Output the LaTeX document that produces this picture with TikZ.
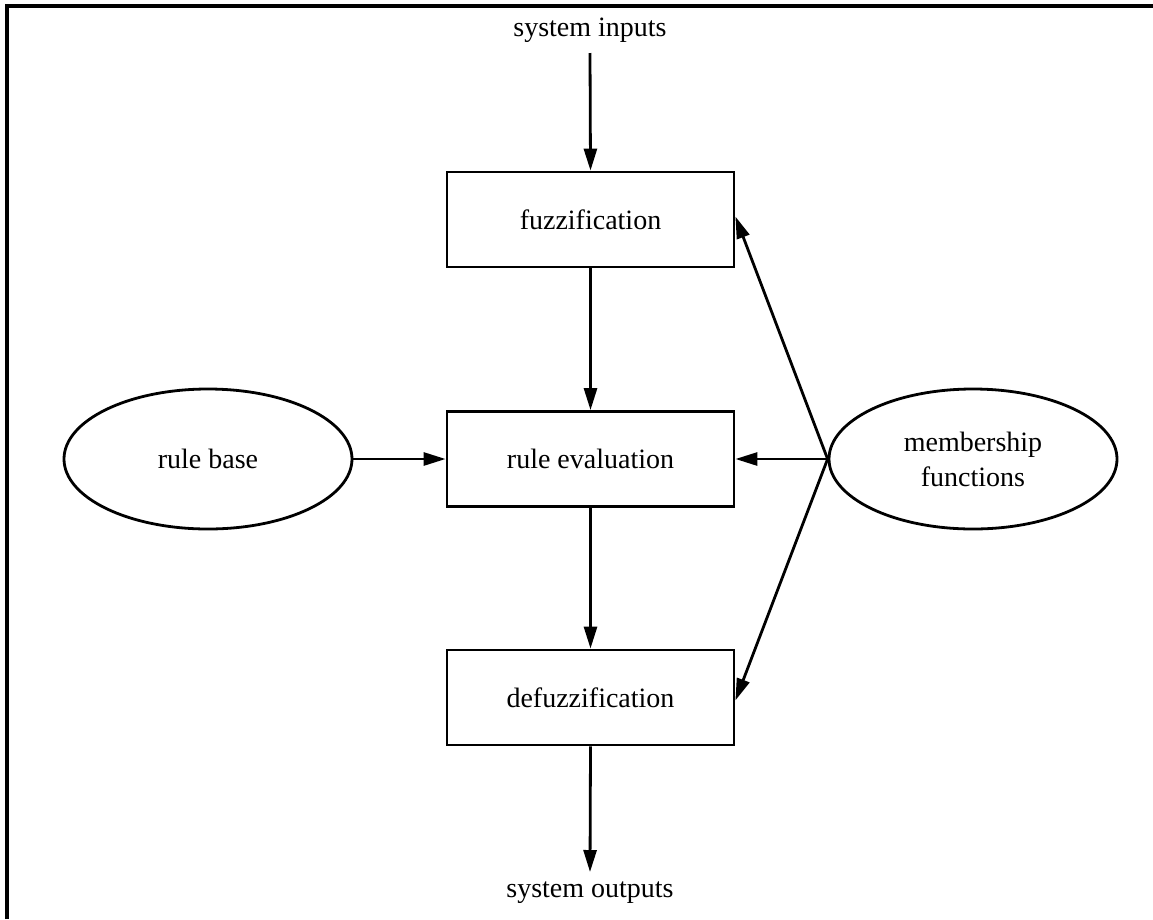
\documentclass[tikz,border=0pt]{standalone}
\usepackage{fontspec}
\setmainfont{Liberation Serif}
\usetikzlibrary{shapes.geometric,arrows.meta}
\begin{document}
\begin{tikzpicture}[x=1pt,y=-1pt,
  every node/.style={font=\fontsize{28}{35}\selectfont, inner sep=0pt},
  stagebox/.style={draw, line width=2.8pt, minimum width=287pt, minimum height=95pt},
  oval/.style={draw, ellipse, line width=2.8pt, minimum width=288pt, minimum height=140pt, align=center},
  conn/.style={line width=2.8pt, -{Triangle[length=22pt,width=13pt]}},
  label/.style={}]
\useasboundingbox (0,0) rectangle (1153,919);
\draw[line width=3.2pt] (7,919) -- (7,6) -- (1153,6);
\node[label] (in) at (590,30) {system inputs};
\coordinate (inS) at (590,53);
\node[stagebox] (fz) at (590.5,219.5) {fuzzification};
\node[stagebox] (re) at (590.5,459) {rule evaluation};
\node[stagebox] (df) at (590.5,697.5) {defuzzification};
\coordinate (outE) at (590,872);
\node[label] (out) at (590,893) {system outputs};
\node[oval] (rb) at (208,459) {rule base};
\node[oval] (mf) at (973,459) {membership\\functions};
\draw[conn] (inS) -- (fz.north);
\draw[conn] (fz.south) -- (re.north);
\draw[conn] (re.south) -- (df.north);
\draw[conn] (df.south) -- (outE);
\draw[conn] (rb.east) -- (re.west);
\draw[conn] (mf.west) -- (re.east);
\draw[conn] (mf.west) -- ([yshift=3pt]fz.east);
\draw[conn] (mf.west) -- ([yshift=-3pt]df.east);
\end{tikzpicture}
\end{document}
